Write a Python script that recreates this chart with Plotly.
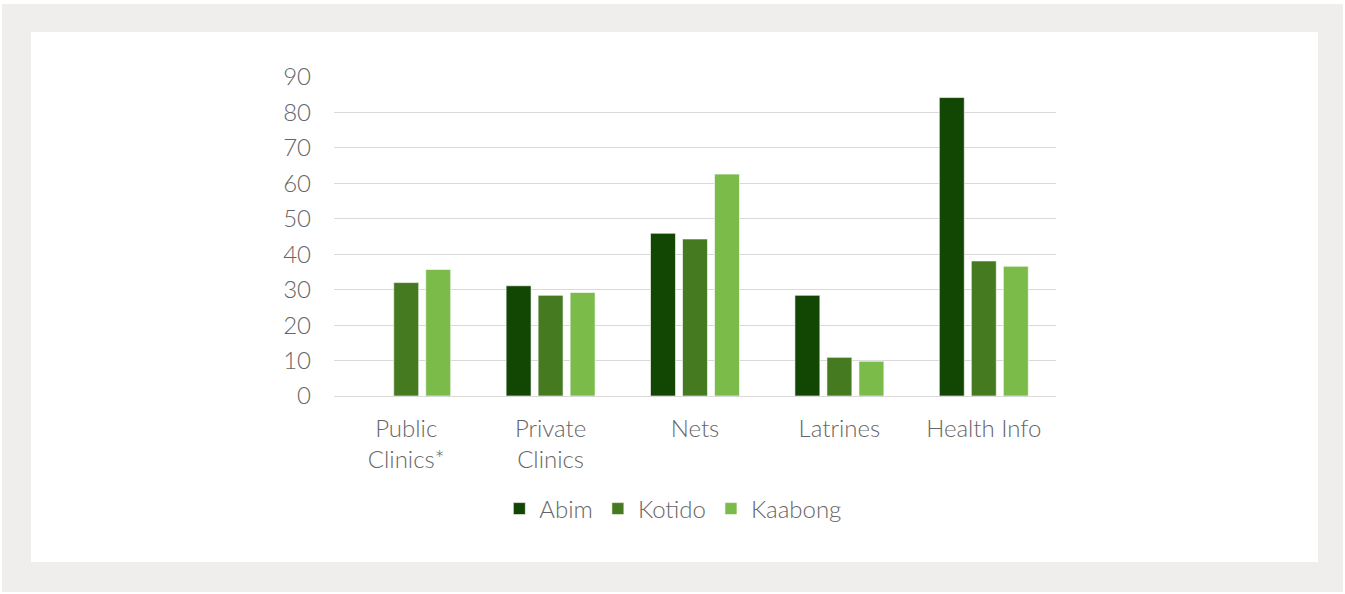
import plotly.graph_objects as go

categories = ["Public<br>Clinics*", "Private<br>Clinics", "Nets", "Latrines", "Health Info"]
series_names = ["Abim", "Kotido", "Kaabong"]
abim = [None, 31.1, 45.9, 28.4, 84.2]
kotido = [32.0, 28.4, 44.3, 10.9, 38.1]
kaabong = [35.7, 29.2, 62.6, 9.8, 36.6]
y_ticks = [0, 10, 20, 30, 40, 50, 60, 70, 80, 90]

colors = ["#124603", "#467a20", "#7abb4a"]
OX, OY = 2, 4  # page offset of the figure
W, H = 1341, 588
L, R, T, B = 334 - OX, 1056 - OX, 77 - OY, 396 - OY

fig = go.Figure()
for name, vals, col in zip(series_names, [abim, kotido, kaabong], colors):
    fig.add_trace(go.Bar(
        x=categories, y=vals, name=name,
        marker=dict(color=col, line=dict(color="rgba(255,255,255,0.6)", width=1)),
    ))

pw, ph = R - L, B - T
def px(x): return (x - OX - L) / pw
def py(y): return (B - (y - OY)) / ph

fig.add_shape(type="rect", xref="paper", yref="paper",
              x0=px(31), x1=px(1318), y0=py(562), y1=py(32),
              fillcolor="white", line=dict(width=0), layer="below")

font = dict(family="Lato, 'Open Sans', sans-serif", color="#666666", size=24, weight=300)
fig.update_layout(
    width=W, height=H,
    margin=dict(l=L, r=W - R, t=T, b=H - B, pad=0),
    paper_bgcolor="#efeeec", plot_bgcolor="white",
    barmode="group", bargap=0.335, bargroupgap=0.22,
    font=font,
    showlegend=True,
    legend=dict(orientation="h", x=0.47, xanchor="center", y=py(509), yanchor="middle",
                font=dict(size=24, color="#666666", weight=300), itemwidth=30,
                traceorder="normal", bgcolor="rgba(0,0,0,0)"),
)
fig.update_yaxes(range=[0, 90], tickvals=y_ticks, showgrid=True, gridcolor="#d9d9d9",
                 gridwidth=1, zeroline=True, zerolinecolor="#d9d9d9", zerolinewidth=1,
                 showline=False, ticks="", ticklabelstandoff=22, tickfont=dict(size=24))
fig.update_xaxes(showgrid=False, showline=False, ticks="", ticklabelstandoff=16,
                 tickfont=dict(size=24))

fig.write_html("out.html",
               post_script="document.body.style.margin='%dpx 0 0 %dpx';" % (OY, OX))
